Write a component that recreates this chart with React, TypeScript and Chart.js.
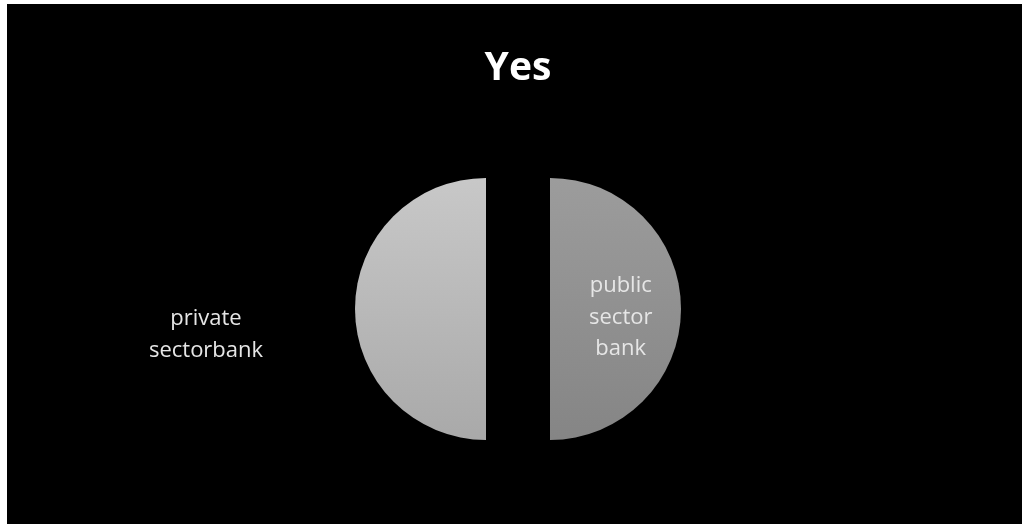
import React, { useEffect, useRef } from "react";
import { Chart, registerables } from "chart.js";

Chart.register(...registerables);

const TITLE = "Yes";
const categories = ["public sector bank", "private sectorbank"];
const values = [50, 50];
const labelLines = [["public", "sector", "bank"], ["private", "sectorbank"]];
const topColors = ["#9c9c9c", "#c8c8c8"];
const bottomColors = ["#858585", "#a9a9a9"];

const FONT = "'Open Sans', sans-serif";
const RADIUS = 131;
const EXPLODE = 32;
const LINE_H = 31.5;

// Explode slices: move each arc's centre outward along its mid-angle
const explodePlugin = {
  id: "explode",
  afterUpdate(chart: any) {
    const meta = chart.getDatasetMeta(0);
    meta.data.forEach((arc: any) => {
      const mid = (arc.startAngle + arc.endAngle) / 2;
      arc.x += Math.cos(mid) * EXPLODE;
      arc.y += Math.sin(mid) * EXPLODE;
    });
  },
};

const labelPlugin = {
  id: "sliceLabels",
  afterDatasetsDraw(chart: any) {
    const meta = chart.getDatasetMeta(0);
    const c = chart.ctx;
    c.save();
    c.fillStyle = "#e6e6e6";
    c.font = `22px ${FONT}`;
    c.textAlign = "center";
    c.textBaseline = "alphabetic";
    meta.data.forEach((arc: any, i: number) => {
      const mid = (arc.startAngle + arc.endAngle) / 2;
      const lines = labelLines[i];
      let lx: number;
      let firstBase: number;
      if (i === 0) {
        lx = arc.x + Math.cos(mid) * arc.outerRadius * 0.54;
        firstBase = arc.y - 16.5;
      } else {
        lx = arc.x + Math.cos(mid) * (arc.outerRadius + 149);
        firstBase = arc.y + 16.5;
      }
      lines.forEach((t, k) => c.fillText(t, lx, firstBase + k * LINE_H));
    });
    c.restore();
  },
};

function makeGradient(chart: any, idx: number) {
  const area = chart.chartArea;
  if (!area) return topColors[idx];
  const cy = (area.top + area.bottom) / 2;
  const g = chart.ctx.createLinearGradient(0, cy - RADIUS, 0, cy + RADIUS);
  g.addColorStop(0, topColors[idx]);
  g.addColorStop(1, bottomColors[idx]);
  return g;
}

export default function App() {
  const ref = useRef<HTMLCanvasElement | null>(null);
  useEffect(() => {
    if (!ref.current) return;
    const chart = new Chart(ref.current, {
      type: "pie",
      data: {
        labels: categories,
        datasets: [
          {
            data: values,
            backgroundColor: (ctx: any) => makeGradient(ctx.chart, ctx.dataIndex),
            borderWidth: 0,
            offset: 0,
          },
        ],
      },
      options: {
        responsive: false,
        animation: false,
        radius: RADIUS,
        layout: { padding: { left: 7, right: 0, top: 0, bottom: 0 } },
        plugins: {
          legend: { display: false },
          tooltip: { enabled: false },
          title: {
            display: true,
            text: TITLE,
            color: "#ffffff",
            font: { family: FONT, size: 39, weight: "bold" },
            padding: { top: 41, bottom: 2 },
          },
        },
      } as any,
      plugins: [explodePlugin, labelPlugin],
    });
    return () => chart.destroy();
  }, []);
  return (
    <div
      style={{
        position: "fixed",
        left: 0,
        top: 0,
        width: 1022,
        height: 524,
        background: "#ffffff",
      }}
    >
      <canvas
        ref={ref}
        width={1015}
        height={520}
        style={{ position: "absolute", left: 7, top: 4, background: "#000000", display: "block" }}
      />
    </div>
  );
}
